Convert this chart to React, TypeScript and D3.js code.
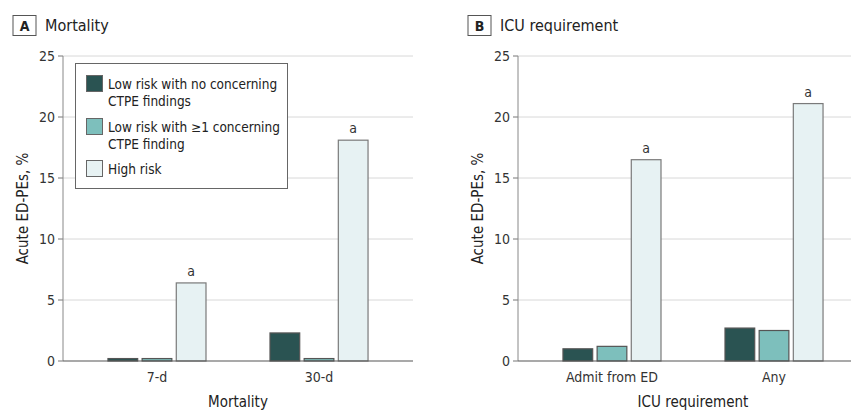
import React from "react";
import * as d3 from "d3";

const seriesNames = [
  ["Low risk with no concerning", "CTPE findings"],
  ["Low risk with ≥1 concerning", "CTPE finding"],
  ["High risk"],
];
const seriesKeys = ["lowNo", "lowConcern", "high"];
const seriesColors = ["#2a5352", "#7dbfbc", "#e7f2f3"];

const mortalityCategories = ["7-d", "30-d"];
const mortalityLowNo = [0.2, 2.3];
const mortalityLowConcern = [0.2, 0.2];
const mortalityHigh = [6.4, 18.1];

const icuCategories = ["Admit from ED", "Any"];
const icuLowNo = [1.0, 2.7];
const icuLowConcern = [1.2, 2.5];
const icuHigh = [16.5, 21.1];

const yTicks = [0, 5, 10, 15, 20, 25];
const FONT = "'DejaVu Sans Condensed', 'Liberation Sans Narrow', 'Roboto Condensed', Roboto, sans-serif";
const W = 851;
const H = 410;
const TOP = 56;
const BOTTOM = 361;

type PanelProps = {
  x0: number;
  letter: string;
  title: string;
  xTitle: string;
  categories: string[];
  values: number[][];
  legend?: boolean;
};

function Panel({ x0, letter, title, xTitle, categories, values, legend }: PanelProps) {
  const x1 = x0 + 350;
  const y = d3.scaleLinear().domain([0, 25]).range([BOTTOM, TOP]);
  const xBand = d3
    .scaleBand<string>()
    .domain(categories)
    .range([x0, x1])
    .paddingInner(0.395)
    .paddingOuter(0.2775);
  const inner = d3
    .scaleBand<string>()
    .domain(seriesKeys)
    .range([0, xBand.bandwidth()])
    .paddingInner(0.13)
    .paddingOuter(0);
  const boxX = x0 - 50;
  return (
    <g>
      {/* title */}
      <rect x={boxX} y={15.5} width={23} height={20} fill="#fff" stroke="#555" strokeWidth={1} />
      <text x={boxX + 11.5} y={30.5} textAnchor="middle" fontSize={14} fontWeight="bold" fill="#222" fontFamily={FONT}>
        {letter}
      </text>
      <text x={boxX + 32} y={31} fontSize={16} fill="#222" fontFamily={FONT}>
        {title}
      </text>
      {/* grid */}
      {yTicks.map((t) => (
        <g key={t}>
          {t > 0 && <line x1={x0} x2={x1} y1={y(t)} y2={y(t)} stroke="#d8d8d8" strokeWidth={1} />}
          <line x1={x0 - 5} x2={x0} y1={y(t)} y2={y(t)} stroke="#777" strokeWidth={1} />
          <text x={x0 - 8} y={y(t)} dy="0.35em" textAnchor="end" fontSize={14} fill="#333" fontFamily={FONT}>
            {t}
          </text>
        </g>
      ))}
      <line x1={x0} x2={x0} y1={TOP} y2={BOTTOM} stroke="#888" strokeWidth={1} />
      {/* bars */}
      {categories.map((c, ci) => (
        <g key={c}>
          {seriesKeys.map((k, si) => {
            const v = values[si][ci];
            const bx = (xBand(c) as number) + (inner(k) as number);
            const bw = inner.bandwidth();
            return (
              <g key={k}>
                <rect
                  x={bx}
                  y={y(v)}
                  width={bw}
                  height={y(0) - y(v)}
                  fill={seriesColors[si]}
                  stroke={si === 2 ? "#7a7a7a" : "#555"}
                  strokeWidth={1.2}
                />
                {si === 2 && (
                  <text x={bx + bw / 2} y={y(v) - 7} textAnchor="middle" fontSize={14} fill="#333" fontFamily={FONT}>
                    a
                  </text>
                )}
              </g>
            );
          })}
          <text
            x={(xBand(c) as number) + xBand.bandwidth() / 2}
            y={382}
            textAnchor="middle"
            fontSize={14}
            fill="#333"
            fontFamily={FONT}
          >
            {c}
          </text>
        </g>
      ))}
      <line x1={x0} x2={x1} y1={BOTTOM} y2={BOTTOM} stroke="#555" strokeWidth={1.2} />
      <text x={(x0 + x1) / 2} y={407} textAnchor="middle" fontSize={15} fill="#222" fontFamily={FONT}>
        {xTitle}
      </text>
      <text
        transform={`translate(${x0 - 40},${(TOP + BOTTOM) / 2}) rotate(-90)`}
        textAnchor="middle"
        dy="0.35em"
        fontSize={15}
        fill="#222"
        fontFamily={FONT}
      >
        Acute ED-PEs, %
      </text>
      {legend && (
        <g>
          <rect x={75.5} y={63.5} width={212} height={125} fill="#fff" stroke="#666" strokeWidth={1} />
          {seriesNames.map((lines, i) => {
            const rowY = [75, 118, 160][i];
            return (
              <g key={i}>
                <rect x={86.5} y={rowY + 0.5} width={16} height={16} fill={seriesColors[i]} stroke="#666" strokeWidth={1} />
                {lines.map((l, li) => (
                  <text key={li} x={108} y={rowY + 9 + li * 17} dy="0.35em" fontSize={13.5} fill="#222" fontFamily={FONT}>
                    {l}
                  </text>
                ))}
              </g>
            );
          })}
        </g>
      )}
    </g>
  );
}

export default function App() {
  return (
    <svg width={W} height={H} style={{ display: "block", position: "absolute", left: 0, top: 0, background: "#fff" }}>
      <rect width={W} height={H} fill="#fff" />
      <Panel
        x0={63}
        letter="A"
        title="Mortality"
        xTitle="Mortality"
        categories={mortalityCategories}
        values={[mortalityLowNo, mortalityLowConcern, mortalityHigh]}
        legend
      />
      <Panel
        x0={518}
        letter="B"
        title="ICU requirement"
        xTitle="ICU requirement"
        categories={icuCategories}
        values={[icuLowNo, icuLowConcern, icuHigh]}
      />
    </svg>
  );
}
